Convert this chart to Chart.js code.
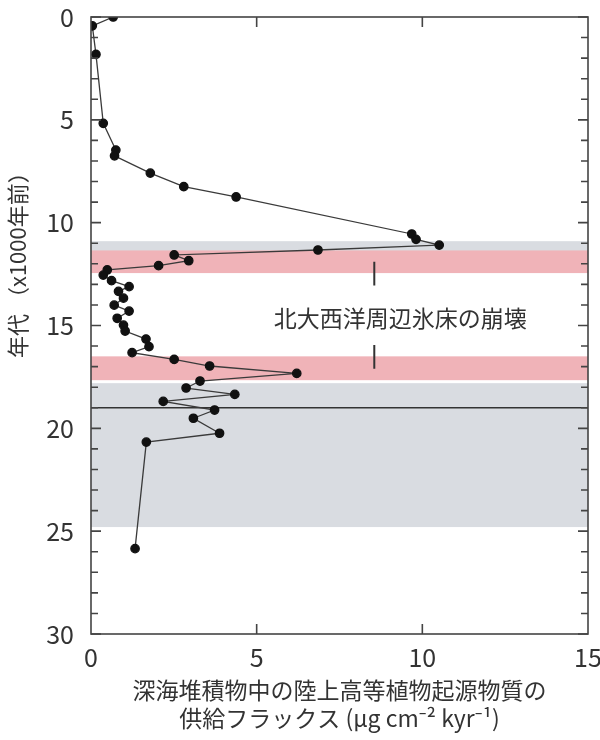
<!DOCTYPE html>
<html>
<head>
<meta charset="utf-8">
<script src="https://cdn.jsdelivr.net/npm/chart.js@4"></script>
<style>
  html, body { margin: 0; padding: 0; background: #fff; }
  #wrap { width: 600px; height: 740px; }
</style>
</head>
<body>
<div id="wrap"><canvas id="fluxChart"></canvas></div>
<script>
// 供給フラックス (μg cm-2 kyr-1) と年代 (x1000年前)
const flux = [0.67, 0.04, 0.15, 0.37, 0.75, 0.71, 1.79, 2.80, 4.38, 9.68, 9.81, 10.51, 6.85,
  2.51, 2.95, 2.04, 0.49, 0.37, 0.62, 1.15, 0.83, 0.98, 0.70, 1.15, 0.79, 0.98, 1.03, 1.66,
  1.75, 1.24, 2.51, 3.58, 6.21, 3.29, 2.87, 4.34, 2.18, 3.73, 3.09, 3.88, 1.67, 1.33];
const age = [0.0, 0.43, 1.82, 5.17, 6.47, 6.75, 7.59, 8.25, 8.75, 10.55, 10.81, 11.09, 11.33,
  11.57, 11.85, 12.09, 12.30, 12.55, 12.82, 13.11, 13.34, 13.67, 14.01, 14.30, 14.65, 14.98, 15.27, 15.66,
  16.03, 16.32, 16.65, 16.97, 17.33, 17.70, 18.04, 18.35, 18.69, 19.11, 19.51, 20.24, 20.67, 25.85];

const xTicks = [0, 5, 10, 15];
const yTicks = [0, 5, 10, 15, 20, 25, 30];

// 背景の帯 [開始, 終了] (x1000年前)
const grayBands = [[10.9, 12.45], [17.8, 24.8]];
const pinkBands = [[11.35, 12.45], [16.5, 17.67]];
const lgmLine = 19.0;

// 注記
const eventLabel = '北大西洋周辺氷床の崩壊';
const eventLabelPos = { x: 9.33, y: 14.63 };
const eventMarkX = 8.55;
const eventMarks = [[11.9, 13.05], [15.95, 17.1]];

const xTitle = ['深海堆積物中の陸上高等植物起源物質の', '供給フラックス (μg cm⁻² kyr⁻¹)'];
const yTitle = '年代 （x1000年前）';
const yTitleAt = 11.8;

const FONT = '"Noto Sans CJK JP", "Noto Sans", sans-serif';

const framePlugin = {
  id: 'frame',
  beforeDatasetsDraw(chart) {
    const { ctx, chartArea: a, scales: { x, y } } = chart;
    ctx.save();
    ctx.fillStyle = '#d9dce1';
    grayBands.forEach(b => {
      const t = y.getPixelForValue(b[0]), btm = y.getPixelForValue(b[1]);
      ctx.fillRect(a.left, t, a.right - a.left, btm - t);
    });
    ctx.fillStyle = '#f0b3b8';
    pinkBands.forEach(b => {
      const t = y.getPixelForValue(b[0]), btm = y.getPixelForValue(b[1]);
      ctx.fillRect(a.left, t, a.right - a.left, btm - t);
    });
    // 白い隙間
    ctx.fillStyle = '#ffffff';
    const g = y.getPixelForValue(pinkBands[1][1]);
    ctx.fillRect(a.left, g, a.right - a.left, y.getPixelForValue(grayBands[1][0]) - g);
    // 19ka の線
    ctx.strokeStyle = '#333';
    ctx.lineWidth = 1.6;
    const ly = y.getPixelForValue(lgmLine);
    ctx.beginPath();
    ctx.moveTo(a.left, ly);
    ctx.lineTo(a.right, ly);
    ctx.stroke();
    ctx.restore();
  },
  afterDatasetsDraw(chart) {
    const { ctx, chartArea: a, scales: { x, y } } = chart;
    ctx.save();
    ctx.strokeStyle = '#444';
    ctx.lineWidth = 1.6;
    ctx.strokeRect(a.left, a.top, a.right - a.left, a.bottom - a.top);

    // 内向きの目盛
    ctx.beginPath();
    for (let v = y.min; v <= y.max; v++) {
      const py = y.getPixelForValue(v);
      const len = v % 5 === 0 ? 10 : 7;
      ctx.moveTo(a.left, py); ctx.lineTo(a.left + len, py);
      ctx.moveTo(a.right, py); ctx.lineTo(a.right - len, py);
    }
    xTicks.slice(1, -1).forEach(v => {
      const px = x.getPixelForValue(v);
      ctx.moveTo(px, a.bottom); ctx.lineTo(px, a.bottom - 10);
      ctx.moveTo(px, a.top); ctx.lineTo(px, a.top + 10);
    });
    ctx.stroke();

    // 注記マーク
    ctx.strokeStyle = '#333';
    ctx.lineWidth = 2;
    ctx.beginPath();
    const mx = x.getPixelForValue(eventMarkX);
    eventMarks.forEach(m => {
      ctx.moveTo(mx, y.getPixelForValue(m[0]));
      ctx.lineTo(mx, y.getPixelForValue(m[1]));
    });
    ctx.stroke();

    ctx.fillStyle = '#333';
    ctx.font = '23px ' + FONT;
    ctx.textAlign = 'center';
    ctx.textBaseline = 'middle';
    ctx.fillText(eventLabel, x.getPixelForValue(eventLabelPos.x), y.getPixelForValue(eventLabelPos.y));

    // 縦軸タイトル
    ctx.translate(18, y.getPixelForValue(yTitleAt));
    ctx.rotate(-Math.PI / 2);
    ctx.font = '22px ' + FONT;
    ctx.fillText(yTitle, 0, 0);
    ctx.restore();
  }
};

new Chart(document.getElementById('fluxChart'), {
  type: 'scatter',
  data: {
    datasets: [{
      data: flux.map((v, i) => ({ x: v, y: age[i] })),
      showLine: true,
      borderColor: '#3a3a3a',
      borderWidth: 1.3,
      backgroundColor: '#111',
      pointBackgroundColor: '#111',
      pointBorderColor: '#111',
      pointRadius: 4.2,
      tension: 0
    }]
  },
  options: {
    responsive: true,
    maintainAspectRatio: false,
    animation: false,
    events: [],
    layout: { padding: { top: 17, right: 12, left: 0, bottom: 0 } },
    plugins: { legend: { display: false }, tooltip: { enabled: false } },
    scales: {
      x: {
        type: 'linear',
        min: 0, max: 15,
        afterFit(scale) {
          scale.height = 106;
          scale.paddingLeft = 0; scale.paddingRight = 0;
        },
        afterBuildTicks(scale) { scale.ticks = xTicks.map(v => ({ value: v })); },
        grid: { display: false, drawTicks: false },
        border: { display: false },
        ticks: { padding: 8, color: '#333', font: { family: FONT, size: 25 } },
        title: {
          display: true,
          text: xTitle,
          color: '#333',
          font: { family: FONT, size: 23, lineHeight: 1.22 },
          padding: { top: 0, bottom: 8 }
        }
      },
      y: {
        type: 'linear',
        reverse: true,
        min: 0, max: 30,
        afterFit(scale) {
          scale.width = 91;
          scale.paddingTop = 0; scale.paddingBottom = 0;
        },
        afterBuildTicks(scale) { scale.ticks = yTicks.map(v => ({ value: v })); },
        grid: { display: false, drawTicks: false },
        border: { display: false },
        ticks: { padding: 17, color: '#333', font: { family: FONT, size: 25 } }
      }
    }
  },
  plugins: [framePlugin]
});
</script>
</body>
</html>
